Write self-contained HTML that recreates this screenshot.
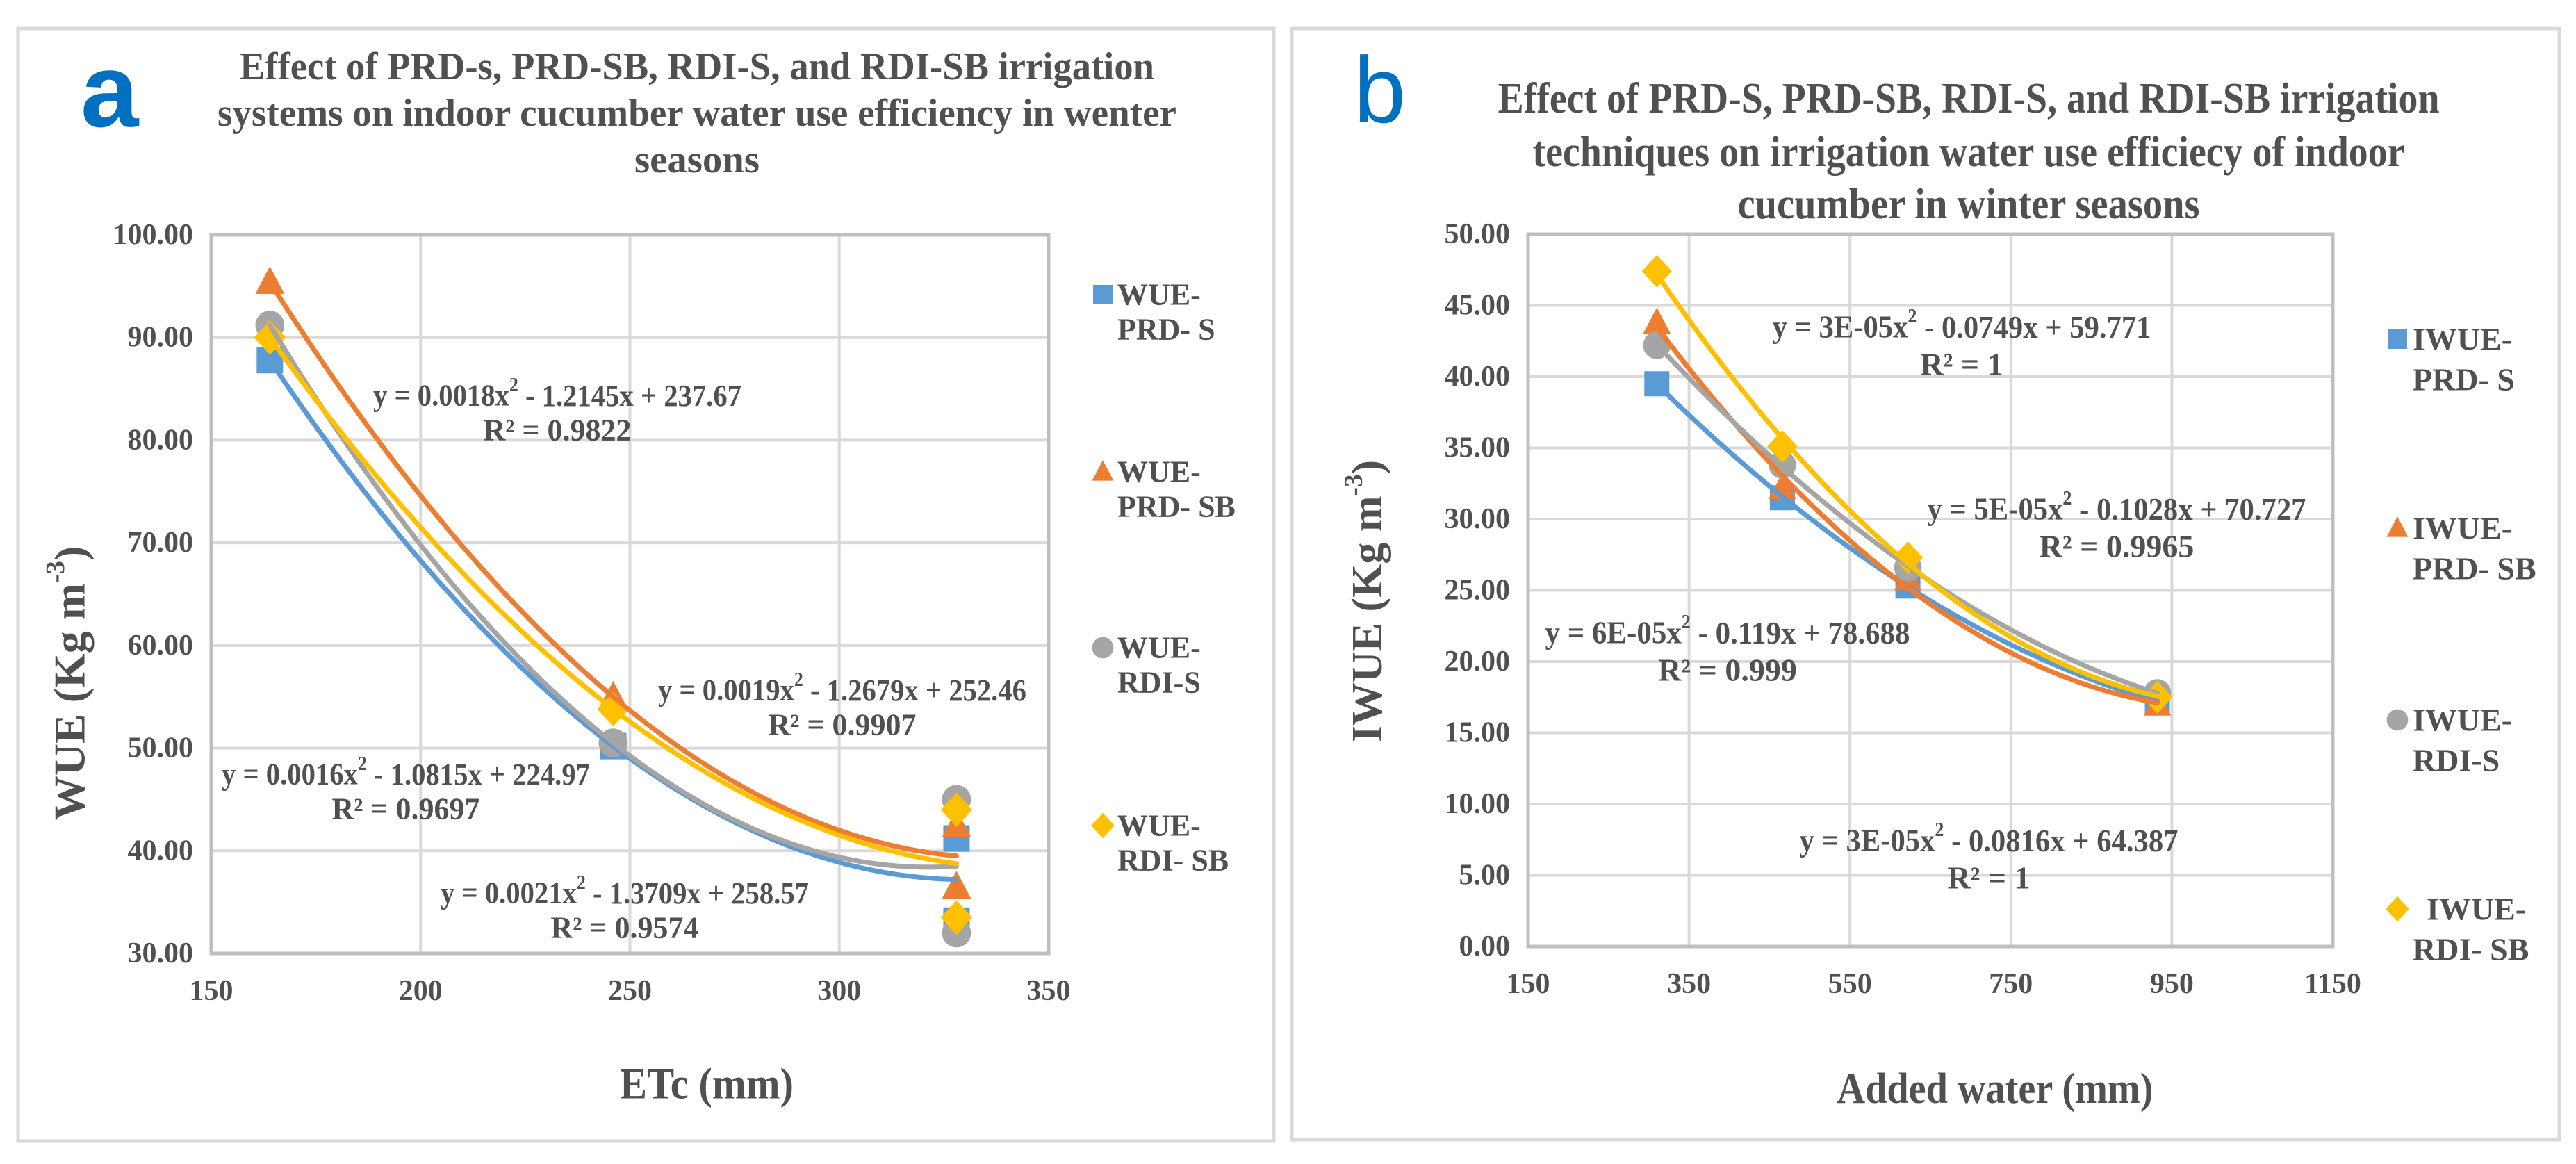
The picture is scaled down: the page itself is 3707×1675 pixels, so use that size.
<!DOCTYPE html>
<html><head><meta charset="utf-8"><style>
html,body{margin:0;padding:0;background:#fff;}
svg{display:block;font-family:"Liberation Serif",serif;}
</style></head><body>
<svg id="chart" width="3707" height="1675" viewBox="0 0 3707 1675" xmlns="http://www.w3.org/2000/svg">
<rect x="26" y="41" width="1807" height="1601" fill="#fff" stroke="#d9d9d9" stroke-width="5"/>
<rect x="1859" y="41" width="1824" height="1599" fill="#fff" stroke="#d9d9d9" stroke-width="5"/>
<g id="pa"></g>
<g id="pb"></g>
</svg>
<script>
// ---------- Panel A data ----------
const aX = [164, 246, 328, 328];
const aPRDS = [87.8, 50.2, 41.2, 33.2];
const aPRDSB = [95.4, 55.0, 42.5, 36.5];
const aRDIS = [91.2, 50.5, 45.0, 32.0];
const aRDISB = [90.0, 53.8, 44.0, 33.5];
const aXTicks = [150, 200, 250, 300, 350];
const aYTicks = [30, 40, 50, 60, 70, 80, 90, 100];
// ---------- Panel B data ----------
const bX = [310, 466, 622, 932];
const bPRDS = [39.5, 31.5, 25.3, 17.2];
const bPRDSB = [43.8, 32.2, 25.8, 17.0];
const bRDIS = [42.2, 33.8, 26.6, 17.8];
const bRDISB = [47.4, 35.1, 27.3, 17.5];
const bXTicks = [150, 350, 550, 750, 950, 1150];
const bYTicks = [0, 5, 10, 15, 20, 25, 30, 35, 40, 45, 50];

const NS = "http://www.w3.org/2000/svg";
const COLORS = ["#5b9bd5", "#ed7d31", "#a5a5a5", "#ffc000"];
const SHAPES = ["square", "triangle", "circle", "diamond"];
const TXT = "#505050";

function mk(parent, tag, attrs) {
  const e = document.createElementNS(NS, tag);
  for (const k in attrs) e.setAttribute(k, attrs[k]);
  parent.appendChild(e);
  return e;
}
function txt(parent, x, y, s, size, opts) {
  opts = opts || {};
  const t = mk(parent, "text", {x: x, y: y, "font-size": size, "font-weight": "bold", fill: opts.fill || TXT,
    "text-anchor": opts.anchor || "middle", "dominant-baseline": "central"});
  if (opts.len) { t.setAttribute("textLength", opts.len); t.setAttribute("lengthAdjust", "spacingAndGlyphs"); }
  if (opts.rot) t.setAttribute("transform", "rotate(-90 " + x + " " + y + ")");
  t.textContent = s;
  return t;
}
function fitQuad(xs, ys) {
  let S = [0,0,0,0,0], T = [0,0,0];
  for (let i = 0; i < xs.length; i++) {
    let p = 1;
    for (let k = 0; k < 5; k++) { S[k] += p; p *= xs[i]; }
    T[0] += ys[i]; T[1] += ys[i]*xs[i]; T[2] += ys[i]*xs[i]*xs[i];
  }
  const M = [[S[0],S[1],S[2],T[0]],[S[1],S[2],S[3],T[1]],[S[2],S[3],S[4],T[2]]];
  for (let i = 0; i < 3; i++) {
    for (let j = i+1; j < 3; j++) {
      const f = M[j][i]/M[i][i];
      for (let k = i; k < 4; k++) M[j][k] -= f*M[i][k];
    }
  }
  const c = [0,0,0];
  for (let i = 2; i >= 0; i--) {
    let s = M[i][3];
    for (let k = i+1; k < 3; k++) s -= M[i][k]*c[k];
    c[i] = s/M[i][i];
  }
  return c;
}
function marker(g, shape, cx, cy, color, sz) {
  let e;
  if (shape === "square") e = mk(g, "rect", {x: cx-sz/2, y: cy-sz/2, width: sz, height: sz, fill: color});
  else if (shape === "triangle") e = mk(g, "polygon", {points: `${cx},${cy-sz*0.6} ${cx+sz*0.55},${cy+sz*0.45} ${cx-sz*0.55},${cy+sz*0.45}`, fill: color});
  else if (shape === "circle") e = mk(g, "circle", {cx: cx, cy: cy, r: sz*0.55, fill: color});
  else e = mk(g, "polygon", {points: `${cx},${cy-sz*0.65} ${cx+sz*0.6},${cy} ${cx},${cy+sz*0.65} ${cx-sz*0.6},${cy}`, fill: color});
  return e;
}

function panel(cfg) {
  const g = document.getElementById(cfg.id);
  const xs = v => cfg.L + (v - cfg.xmin)/(cfg.xmax - cfg.xmin)*(cfg.R - cfg.L);
  const ys = v => cfg.B - (v - cfg.ymin)/(cfg.ymax - cfg.ymin)*(cfg.B - cfg.T);
  cfg.yTicks.forEach(v => {
    const l = mk(g, "line", {x1: cfg.L, x2: cfg.R, y1: ys(v), y2: ys(v), stroke: "#d9d9d9", "stroke-width": 4});
    
    
    const t = txt(g, cfg.L - 26, ys(v), v.toFixed(2), cfg.tickSize, {anchor: "end"});
    
    
  });
  cfg.xTicks.forEach(v => {
    const l = mk(g, "line", {x1: xs(v), x2: xs(v), y1: cfg.T, y2: cfg.B, stroke: "#d9d9d9", "stroke-width": 4});
    
    
    const t = txt(g, xs(v), cfg.B + 54, String(v), cfg.tickSize);
    
    
  });
  const fr = mk(g, "rect", {x: cfg.L, y: cfg.T, width: cfg.R - cfg.L, height: cfg.B - cfg.T, fill: "none", stroke: "#bfbfbf", "stroke-width": 5});
  
  
  cfg.series.forEach((s, i) => {
    s.forEach((v, j) => {
      const m = marker(g, SHAPES[i], xs(cfg.x[j]), ys(v), COLORS[i], cfg.msz);
      
      
    });
  });
  cfg.series.forEach((s, i) => {
    const c = fitQuad(cfg.x, s);
    const x0 = Math.min(...cfg.x), x1 = Math.max(...cfg.x);
    let d = "";
    for (let k = 0; k <= 80; k++) {
      const xv = x0 + (x1 - x0)*k/80;
      const yv = c[0] + c[1]*xv + c[2]*xv*xv;
      d += (k ? "L" : "M") + xs(xv).toFixed(1) + "," + ys(yv).toFixed(1);
    }
    const p = mk(g, "path", {d: d, fill: "none", stroke: COLORS[i], "stroke-width": 7, "stroke-linecap": "round"});
    
    
  });
  cfg.eqs.forEach(e => {
    const t1 = txt(g, e[0], e[1], "", cfg.eqSize, {len: e[4]});
    t1.innerHTML = e[2];
    
    
    const t2 = txt(g, e[0], e[1] + cfg.eqGap, "", cfg.eqSize);
    t2.innerHTML = e[3];
    
    
  });
  cfg.legend.forEach((lg, i) => {
    const m = marker(g, SHAPES[i], cfg.legX, lg[0], COLORS[i], 28);
    
    
    const t1 = txt(g, cfg.legTX + (lg[3]||0), lg[0], lg[1], cfg.legSize, {anchor: "start"});
    
    
    const t2 = txt(g, cfg.legTX, lg[0] + cfg.legGap, lg[2], cfg.legSize, {anchor: "start"});
    
    
  });
  cfg.title.forEach(tl => {
    const t = txt(g, tl[0], tl[1], tl[2], cfg.titleSize, {len: tl[3]});
    
    
  });
  const xt = txt(g, cfg.xTitle[0], cfg.xTitle[1], cfg.xTitle[2], cfg.axTitleSize, {len: cfg.xTitle[3]});
  
  
  const yt = txt(g, cfg.yTitle[0], cfg.yTitle[1], "", cfg.axTitleSize, {rot: true});
  yt.innerHTML = cfg.yTitle[2] + ' (Kg m<tspan dy="-20" font-size="' + (cfg.axTitleSize*0.6) + '">-3</tspan><tspan dy="20">)</tspan>';
  
  
  const lt = mk(g, "text", {x: cfg.letter[0], y: cfg.letter[1], "font-size": cfg.letter[3], "font-weight": cfg.letter[4], fill: "#0070c0", "font-family": "Liberation Sans, sans-serif"});
  lt.textContent = cfg.letter[2];
  
  
}
const sup = '<tspan dy="-15" font-size="28">2</tspan><tspan dy="15">';
panel({
  id: "pa", L: 304, R: 1509, T: 338, B: 1372, xmin: 150, xmax: 350, ymin: 30, ymax: 100,
  xTicks: aXTicks, yTicks: aYTicks, x: aX, series: [aPRDS, aPRDSB, aRDIS, aRDISB],
  names: ["PRD-S", "PRD-SB", "RDI-S", "RDI-SB"], msz: 38, tickSize: 42,
  eqSize: 44, eqGap: 50,
  eqs: [
    [802, 569, 'y = 0.0018x' + sup + ' - 1.2145x + 237.67</tspan>', 'R² = 0.9822', 530],
    [1212, 993, 'y = 0.0019x' + sup + ' - 1.2679x + 252.46</tspan>', 'R² = 0.9907', 530],
    [584, 1114, 'y = 0.0016x' + sup + ' - 1.0815x + 224.97</tspan>', 'R² = 0.9697', 530],
    [899, 1285, 'y = 0.0021x' + sup + ' - 1.3709x + 258.57</tspan>', 'R² = 0.9574', 530]
  ],
  legX: 1587, legTX: 1608, legSize: 44, legGap: 50,
  legend: [[424, "WUE-", "PRD- S"], [679, "WUE-", "PRD- SB"], [932, "WUE-", "RDI-S"], [1188, "WUE-", "RDI- SB"]],
  titleSize: 56, title: [[1003, 96, "Effect of PRD-s, PRD-SB, RDI-S, and RDI-SB irrigation", 1316], [1003, 163, "systems on indoor cucumber water use efficiency in  wenter", 1380], [1003, 230, "seasons", 180]],
  axTitleSize: 64, xTitle: [1017, 1559, "ETc (mm)", 250], yTitle: [100, 983, "WUE"],
  letter: [116, 182, "a", 150, "bold"]
});
panel({
  id: "pb", L: 2199, R: 3357, T: 337, B: 1362, xmin: 150, xmax: 1150, ymin: 0, ymax: 50,
  xTicks: bXTicks, yTicks: bYTicks, x: bX, series: [bPRDS, bPRDSB, bRDIS, bRDISB],
  names: ["IPRD-S", "IPRD-SB", "IRDI-S", "IRDI-SB"], msz: 36, tickSize: 42,
  eqSize: 46, eqGap: 54,
  eqs: [
    [2823, 470, 'y = 3E-05x' + sup + ' - 0.0749x + 59.771</tspan>', 'R² = 1', 545],
    [3046, 732, 'y = 5E-05x' + sup + ' - 0.1028x + 70.727</tspan>', 'R² = 0.9965', 545],
    [2486, 910, 'y = 6E-05x' + sup + ' - 0.119x + 78.688</tspan>', 'R² = 0.999', 525],
    [2862, 1209, 'y = 3E-05x' + sup + ' - 0.0816x + 64.387</tspan>', 'R² = 1', 545]
  ],
  legX: 3450, legTX: 3472, legSize: 46, legGap: 58,
  legend: [[488, "IWUE-", "PRD- S"], [760, "IWUE-", "PRD- SB"], [1036, "IWUE-", "RDI-S"], [1308, "IWUE-", "RDI- SB", 20]],
  titleSize: 62, title: [[2833, 142, "Effect of PRD-S, PRD-SB, RDI-S, and RDI-SB irrigation", 1355], [2833, 219, "techniques on irrigation water use efficiecy of indoor", 1255], [2833, 294, "cucumber in winter seasons", 665]],
  axTitleSize: 62, xTitle: [2871, 1567, "Added water (mm)", 455], yTitle: [1968, 865, "IWUE"],
  letter: [1948, 176, "b", 135, "normal"]
});
</script>
</body></html>
